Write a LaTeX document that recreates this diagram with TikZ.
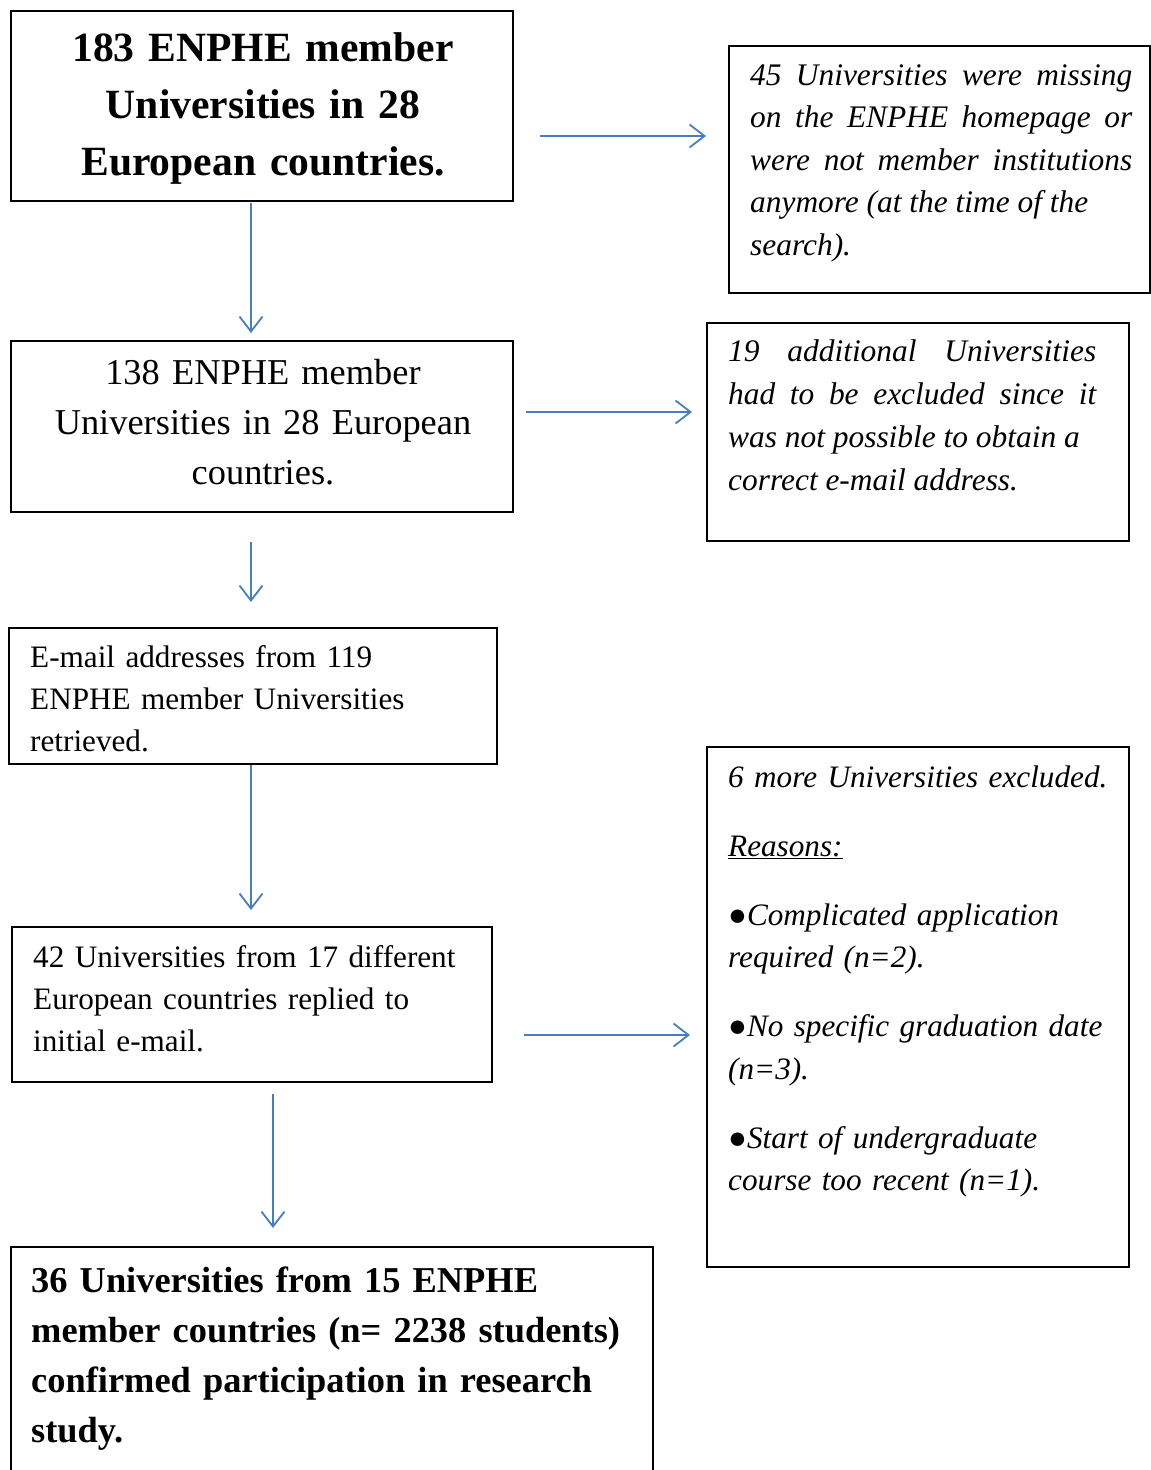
\documentclass[tikz,border=0pt]{standalone}
\usepackage{fontspec}
\setmainfont{Liberation Serif}
\usetikzlibrary{arrows.meta}
\definecolor{arrowblue}{HTML}{4A7EBB}
\begin{document}
\begin{tikzpicture}[x=1pt,y=-1pt,
  boxstyle/.style={draw=black, line width=1.8pt, inner sep=0pt, minimum width=#1},
  rbox/.style={draw=black, line width=1.3pt, inner sep=0pt, minimum width=#1},
  flowarrow/.style={draw=arrowblue, line width=1.8pt, -{Straight Barb[length=15pt,width=23pt,line width=1.8pt]}},
  txt/.style={inner sep=0pt, text width=#1},
  small/.style={font=\fontsize{31.2}{42}\selectfont},
  smallit/.style={font=\fontsize{31.4}{42.5}\selectfont\itshape},
]
\useasboundingbox (0,0) rectangle (1151,1470);

% boxes
\node[boxstyle=502pt, line width=2.5pt, minimum height=190pt] (b1) at (262,106) {};
\node[rbox=421pt, minimum height=247pt] (r1) at (939.5,169.5) {};
\node[boxstyle=502pt, minimum height=171pt] (b2) at (262,426.5) {};
\node[rbox=422pt, minimum height=218pt] (r2) at (918,432) {};
\node[boxstyle=488pt, line width=1.5pt, minimum height=136pt] (b3) at (253,696) {};
\node[rbox=422pt, minimum height=520pt] (r3) at (918,1007) {};
\node[boxstyle=480pt, minimum height=155pt] (b4) at (252,1004.5) {};
\node[boxstyle=642pt, minimum height=243pt] (b5) at (332,1368.5) {};

% texts
\node[txt=490pt, align=center, anchor=base, font=\fontsize{41.6}{57}\selectfont\bfseries] (t1) at (263,61)
  {183 ENPHE member\\ Universities in 28\\ European countries.};
\node[txt=382pt, align=justify, anchor=base west, smallit] (tr1) at (750,85)
  {45 Universities were missing\linebreak on the ENPHE homepage or\linebreak were not member institutions\linebreak anymore (at the time of the\\ search).};
\node[txt=490pt, align=center, anchor=base, font=\fontsize{36.4}{50}\selectfont] (t2) at (263,384)
  {138 ENPHE member\\ Universities in 28 European\\ countries.};
\node[txt=368pt, align=justify, anchor=base west, font=\fontsize{31.4}{43}\selectfont\itshape] (tr2) at (728,361)
  {19 additional Universities\linebreak had to be excluded since it\linebreak was not possible to obtain a\\ correct e-mail address.};
\node[txt=470pt, align=left, anchor=base west, small] (t3) at (30,667)
  {E-mail addresses from 119\\ ENPHE member Universities\\ retrieved.};
\node[txt=410pt, align=left, anchor=base west, font=\fontsize{31.2}{42.5}\selectfont\itshape] (tr3) at (728,787)
  {\setlength{\parskip}{26.5pt}6 more Universities excluded.\par
   \underline{Reasons:}\par
   ●Complicated application\\ required (n=2).\par
   ●No specific graduation date\\ (n=3).\par
   ●Start of undergraduate\\ course too recent (n=1).\par};
\node[txt=460pt, align=left, anchor=base west, small] (t4) at (33,967)
  {42 Universities from 17 different\\ European countries replied to\\ initial e-mail.};
\node[txt=620pt, align=left, anchor=base west, font=\fontsize{36.4}{50}\selectfont\bfseries] (t5) at (31,1292)
  {36 Universities from 15 ENPHE\\ member countries (n= 2238 students)\\ confirmed participation in research\\ study.};

% arrow end points
\coordinate (a1s) at (540,136);  \coordinate (a1e) at (706,136);
\coordinate (a2s) at (251,203);  \coordinate (a2e) at (251,333);
\coordinate (a3s) at (526,412);  \coordinate (a3e) at (692,412);
\coordinate (a4s) at (251,542);  \coordinate (a4e) at (251,602);
\coordinate (a5s) at (251,765);  \coordinate (a5e) at (251,910);
\coordinate (a6s) at (524,1035); \coordinate (a6e) at (690,1035);
\coordinate (a7s) at (273,1094); \coordinate (a7e) at (273,1228);

\draw[flowarrow] (a1s) -- (a1e);
\draw[flowarrow] (a2s) -- (a2e);
\draw[flowarrow] (a3s) -- (a3e);
\draw[flowarrow] (a4s) -- (a4e);
\draw[flowarrow] (a5s) -- (a5e);
\draw[flowarrow] (a6s) -- (a6e);
\draw[flowarrow] (a7s) -- (a7e);
\end{tikzpicture}
\end{document}
